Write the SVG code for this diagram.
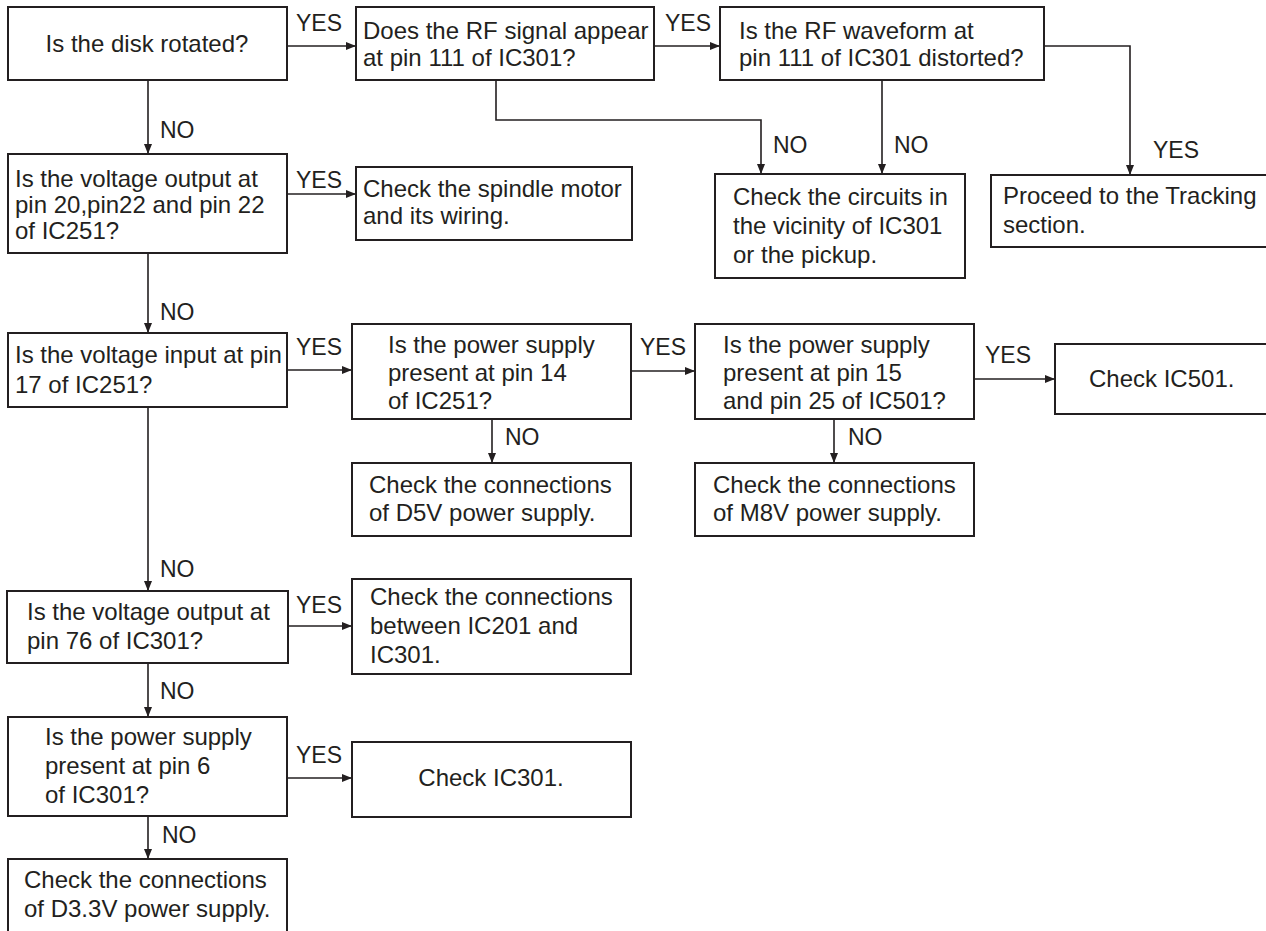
<svg xmlns="http://www.w3.org/2000/svg" width="1266" height="931" viewBox="0 0 1266 931">
<style>
.box{fill:#fff;stroke:#231f20;stroke-width:2}
.t{font-family:"Liberation Sans",Arial,sans-serif;font-size:24px;fill:#231f20}
.lbl{font-family:"Liberation Sans",Arial,sans-serif;font-size:23px;fill:#231f20}
.c{fill:none;stroke:#231f20;stroke-width:1.6}
</style>
<defs>
<marker id="ah" markerUnits="userSpaceOnUse" markerWidth="10" markerHeight="8" refX="10" refY="4" orient="auto">
<path d="M0,0 L10,4 L0,8 z" fill="#231f20"/>
</marker>
</defs>
<rect width="1266" height="931" fill="#fff"/>

<g id="connectors">
<path class="c" d="M287,46 H356" marker-end="url(#ah)"/>
<path class="c" d="M654,46 H720" marker-end="url(#ah)"/>
<path class="c" d="M496,80 V120 H761 V174" marker-end="url(#ah)"/>
<path class="c" d="M882,80 V174" marker-end="url(#ah)"/>
<path class="c" d="M1044,46 H1130 V175" marker-end="url(#ah)"/>
<path class="c" d="M148,80 V154" marker-end="url(#ah)"/>
<path class="c" d="M287,194 H356" marker-end="url(#ah)"/>
<path class="c" d="M148,253 V333" marker-end="url(#ah)"/>
<path class="c" d="M287,370 H352" marker-end="url(#ah)"/>
<path class="c" d="M631,371 H695" marker-end="url(#ah)"/>
<path class="c" d="M974,379 H1055" marker-end="url(#ah)"/>
<path class="c" d="M492,419 V463" marker-end="url(#ah)"/>
<path class="c" d="M834,419 V463" marker-end="url(#ah)"/>
<path class="c" d="M148,407 V591" marker-end="url(#ah)"/>
<path class="c" d="M288,626 H352" marker-end="url(#ah)"/>
<path class="c" d="M148,663 V717" marker-end="url(#ah)"/>
<path class="c" d="M287,778 H352" marker-end="url(#ah)"/>
<path class="c" d="M148,816 V859" marker-end="url(#ah)"/>
<text class="lbl" x="296" y="31">YES</text>
<text class="lbl" x="665" y="31">YES</text>
<text class="lbl" x="773" y="153">NO</text>
<text class="lbl" x="894" y="153">NO</text>
<text class="lbl" x="1153" y="158">YES</text>
<text class="lbl" x="160" y="138">NO</text>
<text class="lbl" x="296" y="188">YES</text>
<text class="lbl" x="160" y="320">NO</text>
<text class="lbl" x="296" y="355">YES</text>
<text class="lbl" x="640" y="355">YES</text>
<text class="lbl" x="985" y="363">YES</text>
<text class="lbl" x="505" y="445">NO</text>
<text class="lbl" x="848" y="445">NO</text>
<text class="lbl" x="160" y="577">NO</text>
<text class="lbl" x="296" y="613">YES</text>
<text class="lbl" x="160" y="699">NO</text>
<text class="lbl" x="296" y="763">YES</text>
<text class="lbl" x="162" y="843">NO</text>
</g>

<g id="n-disk">
<rect class="box" x="8" y="7" width="279" height="73"/>
<text class="t" x="147" y="52" text-anchor="middle">Is the disk rotated?</text>
</g>
<g id="n-rf">
<rect class="box" x="356" y="7" width="298" height="73"/>
<text class="t" x="363" y="39">Does the RF signal appear</text>
<text class="t" x="363" y="66">at pin 111 of IC301?</text>
</g>
<g id="n-wave">
<rect class="box" x="720" y="7" width="324" height="73"/>
<text class="t" x="739" y="39">Is the RF waveform at</text>
<text class="t" x="739" y="66">pin 111 of IC301 distorted?</text>
</g>
<g id="n-circuits">
<rect class="box" x="715" y="174" width="250" height="104"/>
<text class="t" x="733" y="205">Check the circuits in</text>
<text class="t" x="733" y="234">the vicinity of IC301</text>
<text class="t" x="733" y="263">or the pickup.</text>
</g>
<g id="n-tracking">
<rect class="box" x="991" y="175" width="280" height="72"/>
<text class="t" x="1003" y="204">Proceed to the Tracking</text>
<text class="t" x="1003" y="233">section.</text>
</g>
<g id="n-out251">
<rect class="box" x="8" y="154" width="279" height="99"/>
<text class="t" x="15" y="187">Is the voltage output at</text>
<text class="t" x="15" y="213">pin 20,pin22 and pin 22</text>
<text class="t" x="15" y="239">of IC251?</text>
</g>
<g id="n-spindle">
<rect class="box" x="356" y="167" width="276" height="73"/>
<text class="t" x="363" y="197">Check the spindle motor</text>
<text class="t" x="363" y="224">and its wiring.</text>
</g>
<g id="n-in251">
<rect class="box" x="8" y="333" width="279" height="74"/>
<text class="t" x="15" y="363">Is the voltage input at pin</text>
<text class="t" x="15" y="393">17 of IC251?</text>
</g>
<g id="n-pin14">
<rect class="box" x="352" y="324" width="279" height="95"/>
<text class="t" x="388" y="353">Is the power supply</text>
<text class="t" x="388" y="381">present at pin 14</text>
<text class="t" x="388" y="409">of IC251?</text>
</g>
<g id="n-pin15">
<rect class="box" x="695" y="324" width="279" height="95"/>
<text class="t" x="723" y="353">Is the power supply</text>
<text class="t" x="723" y="381">present at pin 15</text>
<text class="t" x="723" y="409">and pin 25 of IC501?</text>
</g>
<g id="n-ic501">
<rect class="box" x="1055" y="344" width="216" height="70"/>
<text class="t" x="1089" y="387">Check IC501.</text>
</g>
<g id="n-d5v">
<rect class="box" x="352" y="463" width="279" height="73"/>
<text class="t" x="369" y="493">Check the connections</text>
<text class="t" x="369" y="521">of D5V power supply.</text>
</g>
<g id="n-m8v">
<rect class="box" x="695" y="463" width="279" height="73"/>
<text class="t" x="713" y="493">Check the connections</text>
<text class="t" x="713" y="521">of M8V power supply.</text>
</g>
<g id="n-pin76">
<rect class="box" x="7" y="591" width="281" height="72"/>
<text class="t" x="27" y="620">Is the voltage output at</text>
<text class="t" x="27" y="649">pin 76 of IC301?</text>
</g>
<g id="n-ic201">
<rect class="box" x="352" y="579" width="279" height="95"/>
<text class="t" x="370" y="605">Check the connections</text>
<text class="t" x="370" y="634">between IC201 and</text>
<text class="t" x="370" y="663">IC301.</text>
</g>
<g id="n-pin6">
<rect class="box" x="8" y="717" width="279" height="99"/>
<text class="t" x="45" y="745">Is the power supply</text>
<text class="t" x="45" y="774">present at pin 6</text>
<text class="t" x="45" y="803">of IC301?</text>
</g>
<g id="n-ic301">
<rect class="box" x="352" y="742" width="279" height="75"/>
<text class="t" x="491" y="786" text-anchor="middle">Check IC301.</text>
</g>
<g id="n-d33v">
<rect class="box" x="8" y="859" width="279" height="80"/>
<text class="t" x="24" y="888">Check the connections</text>
<text class="t" x="24" y="917">of D3.3V power supply.</text>
</g>
</svg>
